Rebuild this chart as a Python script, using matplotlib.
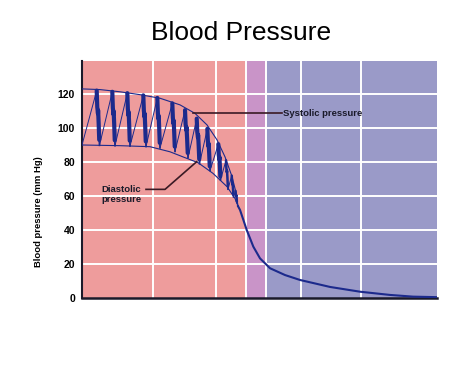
import numpy as np
import matplotlib
matplotlib.use("Agg")
import matplotlib.pyplot as plt

plt.rcParams['font.family'] = ['Liberation Sans', 'DejaVu Sans']

# x runs along the circulation (arbitrary units), y is pressure in mm Hg
# vessel section boundaries (where the white vertical lines are)
section_edges = [0, 70.7, 134, 163.7, 183.7, 219, 279, 354.5]
# colour bands: arterial side, capillaries, venous side
band_edges = [0, 163.7, 183.7, 354.5]
band_colors = ['#ee9c9c', '#c994c8', '#9a9ac8']

y_ticks = [0, 20, 40, 60, 80, 100, 120]

# systolic (upper) and diastolic (lower) envelopes
sys_x = [0, 18, 38, 58, 78, 98, 113, 125, 135, 143, 150, 154, 156]
sys_y = [123, 122.6, 121.3, 119.6, 117.5, 113.6, 108.6, 101.8, 93, 83, 71.4, 62, 54]
dia_x = [0, 38, 68, 88, 101, 116, 131, 145, 153, 156]
dia_y = [90, 89.6, 89, 86, 83, 79.6, 73.3, 65.5, 58.5, 54]

# individual pulse peaks and troughs
peak_x = [14.7, 30.3, 45.3, 61.3, 75.3, 90.3, 103, 114.7, 125.3, 136.3, 144, 149.7, 153.5]
peak_y = [122, 121.3, 120.5, 119.2, 117.7, 114.5, 110.5, 105.5, 99.5, 90.5, 81, 72, 63]
trough_x = [17.5, 33, 48, 64, 78, 93, 106, 117.5, 128, 138.5, 146, 151.5, 155]
trough_y = [89.8, 89.6, 89.4, 89.1, 88.3, 86.2, 82.5, 79, 75, 69.5, 64, 59.5, 56]

# mean pressure after the pulses die out
mean_x = [156, 158, 164.7, 171.3, 178, 188, 203, 218, 248, 278, 308, 331, 354.5]
mean_y = [54, 51.8, 40, 30.2, 23.3, 17.5, 13.5, 10.6, 6.5, 3.7, 1.8, 0.8, 0.5]

navy = '#1c2a8c'
dark = '#1a1a2a'

fig = plt.figure(figsize=(4.74, 3.70), dpi=100)
ax = fig.add_axes([0.173, 0.1946, 0.748, 0.6405])

# background bands
for i in range(len(band_colors)):
    ax.axvspan(band_edges[i], band_edges[i + 1], color=band_colors[i], lw=0, zorder=0)

# white grid
for yt in y_ticks[1:]:
    ax.axhline(yt, color='white', lw=1.4, zorder=1)
for xe in section_edges[1:-1]:
    ax.axvline(xe, color='white', lw=1.4, zorder=1)

# envelopes
ax.plot(sys_x, sys_y, color=navy, lw=0.8, zorder=3)
ax.plot(dia_x, dia_y, color=navy, lw=0.8, zorder=3)

# pulse waves: slow thin upstroke, thick fall with dicrotic notch
prev_x, prev_y = dia_x[0], dia_y[0]
for i, (xp, yp, xt, yt) in enumerate(zip(peak_x, peak_y, trough_x, trough_y)):
    ax.plot([prev_x, xp], [prev_y, yp], color=navy, lw=0.7, zorder=3)
    d = yp - yt
    dx = xt - xp
    fx = np.array([0, 0.2, 0.45, 0.5, 0.7, 0.9])
    fy = np.array([0, 0.3, 0.42, 0.36, 0.6, 0.9])
    width = 3.0 if d > 20 else 1.8
    ax.plot(xp + fx * dx, yp - fy * d, color=navy, lw=width, zorder=4,
            solid_joinstyle='round', solid_capstyle='round')
    ax.plot([xp + 0.9 * dx, xt], [yp - 0.9 * d, yt], color=navy, lw=1.2, zorder=4)
    prev_x, prev_y = xt, yt

ax.plot(mean_x, mean_y, color=navy, lw=1.5, zorder=3)

# annotations
ax.plot([111.3, 199.7], [108.6, 108.6], color='#3a1a24', lw=1.2, zorder=5)
ax.text(201, 108.6, 'Systolic pressure', fontsize=6.8, fontweight='bold',
        color=dark, va='center', ha='left', zorder=6)
ax.plot([64, 83, 114.7], [63.9, 63.9, 80.2], color='#3a1a24', lw=1.2, zorder=5)
ax.text(19.7, 61, 'Diastolic\npressure', fontsize=6.8, fontweight='bold',
        color=dark, va='center', ha='left', linespacing=1.1, zorder=6)

ax.set_xlim(0, 354.5)
ax.set_ylim(0, 139.4)
ax.set_xticks([])
ax.set_yticks(y_ticks)
ax.tick_params(axis='y', length=0, pad=5, labelsize=7.5)
for lab in ax.get_yticklabels():
    lab.set_fontweight('bold')
ax.set_ylabel('Blood pressure (mm Hg)', fontsize=6.8, fontweight='bold')
ax.yaxis.set_label_coords(-0.111, 0.363)

for s in ['top', 'right']:
    ax.spines[s].set_visible(False)
ax.spines['left'].set_linewidth(1.5)
ax.spines['bottom'].set_linewidth(1.8)
ax.spines['left'].set_color(dark)
ax.spines['bottom'].set_color(dark)

fig.text(0.509, 0.911, 'Blood Pressure', fontsize=19, ha='center', va='center')

fig.savefig('out.png', dpi=100)
